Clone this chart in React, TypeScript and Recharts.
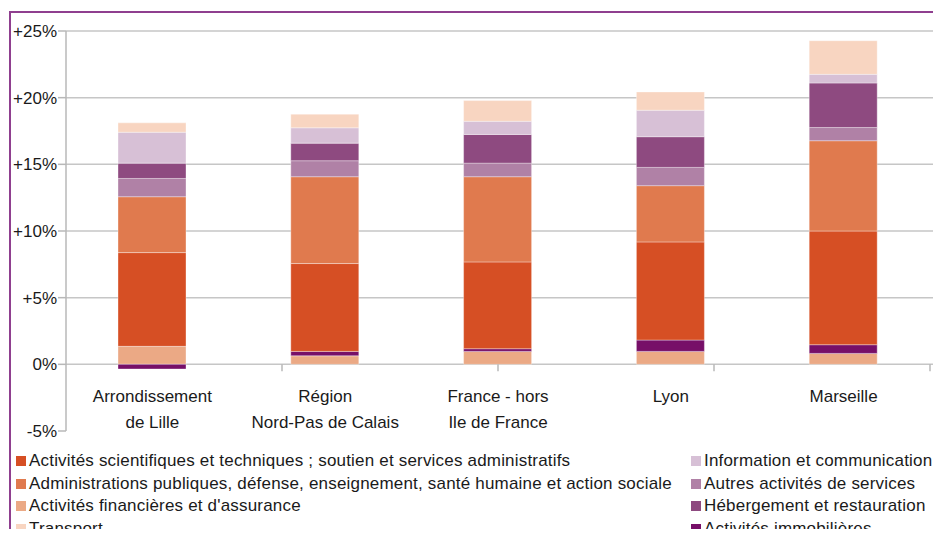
import React from "react";
import { BarChart, Bar, XAxis, YAxis, CartesianGrid } from "recharts";

const categories = ["Arrondissement de Lille", "Région Nord-Pas de Calais", "France - hors Ile de France", "Lyon", "Marseille"];
const categoryLines = [["Arrondissement", "de Lille"], ["Région", "Nord-Pas de Calais"], ["France - hors", "Ile de France"], ["Lyon"], ["Marseille"]];

const financieres = [1.35, 0.64, 0.97, 0.97, 0.82];
const immobilieres = [-0.35, 0.33, 0.2, 0.85, 0.65];
const scientifiques = [7.03, 6.59, 6.51, 7.36, 8.53];
const administrations = [4.19, 6.51, 6.39, 4.22, 6.77];
const autres = [1.37, 1.2, 1.02, 1.37, 0.99];
const hebergement = [1.15, 1.32, 2.15, 2.3, 3.34];
const information = [2.32, 1.15, 0.99, 1.99, 0.65];
const transport = [0.7, 1.02, 1.55, 1.37, 2.52];

const yTicks = [-5, 0, 5, 10, 15, 20, 25];
const gridValues = [0, 5, 10, 15, 20, 25];
const boundaryTicks = [1, 2, 3, 4, 5];

const series = [
  { key: "financieres", name: "Activités financières et d'assurance", color: "#EBA985", values: financieres },
  { key: "immobilieres", name: "Activités immobilières", color: "#770F68", values: immobilieres },
  { key: "scientifiques", name: "Activités scientifiques et techniques ; soutien et services administratifs", color: "#D64F24", values: scientifiques },
  { key: "administrations", name: "Administrations publiques, défense, enseignement, santé humaine et action sociale", color: "#E07A4E", values: administrations },
  { key: "autres", name: "Autres activités de services", color: "#B081A6", values: autres },
  { key: "hebergement", name: "Hébergement et restauration", color: "#8E4A80", values: hebergement },
  { key: "information", name: "Information et communication", color: "#D7C0D6", values: information },
  { key: "transport", name: "Transport", color: "#F8D5C1", values: transport },
];

const legendLeft = ["scientifiques", "administrations", "financieres", "transport"];
const legendRight = ["information", "autres", "hebergement", "immobilieres"];

const data = categories.map((name, i) => {
  const row: any = { name, idx: i };
  series.forEach((s) => (row[s.key] = s.values[i]));
  return row;
});

const FONT = "'Liberation Sans', Arial, sans-serif";
const W = 941;
const H = 480;
const AXIS_H = 20;
const M = { top: 31, right: 11, bottom: 9, left: 8 };
const PLOT_TOP = M.top;
const PLOT_H = H - M.top - M.bottom - 2 * AXIS_H;
const ZERO_Y = PLOT_TOP + (PLOT_H * 25) / 30;

const fmt = (v: number) => (v > 0 ? `+${v}%` : `${v}%`);

const CatTick = (props: any) => {
  const { x, payload, index } = props;
  const i = payload && payload.index != null ? payload.index : index;
  const lines = categoryLines[i] || [payload.value];
  return (
    <g>
      {lines.map((l: string, j: number) => (
        <text key={j} x={x} y={ZERO_Y + 32 + j * 26} textAnchor="middle" dominantBaseline="central" fontSize={17} fontFamily={FONT} fill="#1a1a1a">
          {l}
        </text>
      ))}
    </g>
  );
};

const BoundTick = (props: any) => {
  const { x } = props;
  return <line x1={x} x2={x} y1={ZERO_Y} y2={ZERO_Y + 7} stroke="#b8b8b8" strokeWidth={1.5} />;
};

const LegendItem = ({ k }: { k: string }) => {
  const s = series.find((d) => d.key === k)!;
  return (
    <div style={{ display: "flex", alignItems: "center", height: 22.8, whiteSpace: "nowrap" }}>
      <span style={{ width: 10, height: 10, background: s.color, display: "inline-block", marginRight: 3 }} />
      <span style={{ fontSize: 17, letterSpacing: 0.19, fontFamily: FONT, color: "#1a1a1a" }}>{s.name}</span>
    </div>
  );
};

export default function App() {
  return (
    <div style={{ position: "relative", width: W, height: 537, margin: -8, overflow: "hidden", background: "#fff" }}>
      <div style={{ position: "absolute", left: 9, top: 11, width: 940, height: 530, borderLeft: "2px solid #8f3f8f", borderTop: "2px solid #8f3f8f" }} />
      <div style={{ position: "absolute", left: 0, top: 0 }}>
        <BarChart width={W} height={H} data={data} margin={M} stackOffset="sign" barSize={68}>
          <CartesianGrid vertical={false} stroke="#c6c6c6" strokeWidth={1.5} horizontalValues={gridValues} x={66} width={W - 66} />
          <XAxis dataKey="name" xAxisId={0} height={AXIS_H} axisLine={false} tickLine={false} tick={<CatTick />} interval={0} />
          <XAxis xAxisId="bounds" type="number" domain={[0, 5]} ticks={boundaryTicks} height={AXIS_H} axisLine={false} tickLine={false} tick={<BoundTick />} interval={0} allowDataOverflow />
          <YAxis
            width={58}
            domain={[-5, 25]}
            ticks={yTicks}
            tickFormatter={fmt}
            interval={0}
            axisLine={{ stroke: "#b8b8b8", strokeWidth: 1.5 }}
            tickLine={{ stroke: "#b8b8b8", strokeWidth: 1.5 }}
            tickSize={8}
            tickMargin={1}
            tick={{ fontSize: 17, fontFamily: FONT, fill: "#1a1a1a" }}
          />
          {series.map((s) => (
            <Bar key={s.key} dataKey={s.key} name={s.name} stackId="a" fill={s.color} stroke="rgba(255,255,255,0.35)" strokeWidth={1} isAnimationActive={false} />
          ))}
        </BarChart>
      </div>
      <div style={{ position: "absolute", left: 16, top: 449.5 }}>
        {legendLeft.map((k) => (
          <LegendItem key={k} k={k} />
        ))}
      </div>
      <div style={{ position: "absolute", left: 691, top: 449.5 }}>
        {legendRight.map((k) => (
          <LegendItem key={k} k={k} />
        ))}
      </div>
    </div>
  );
}
